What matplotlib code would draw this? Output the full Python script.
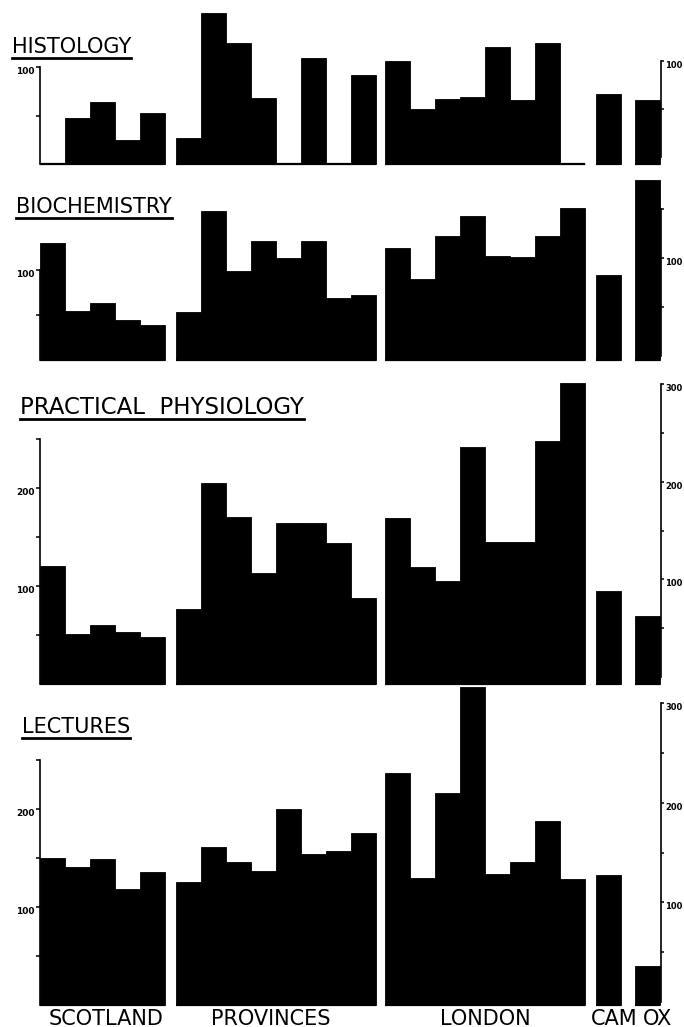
import matplotlib
matplotlib.use("Agg")
import matplotlib.pyplot as plt

W, H = 684, 1027

subjects = ["HISTOLOGY", "BIOCHEMISTRY", "PRACTICAL  PHYSIOLOGY", "LECTURES"]
groups = ["SCOTLAND", "PROVINCES", "LONDON", "CAM", "OX"]

# values, one list per region
scotland = [
    [0, 47, 64, 25, 53],
    [130, 54, 63, 44, 39],
    [120, 51, 60, 53, 48],
    [150, 141, 149, 118, 136],
]
provinces = [
    [27, 156, 125, 68, 0, 109, 0, 92],
    [53, 166, 99, 132, 113, 132, 69, 72],
    [77, 205, 170, 113, 164, 164, 144, 88],
    [126, 161, 146, 137, 200, 154, 157, 176],
]
london = [
    [106, 57, 67, 69, 121, 66, 125, 0],
    [124, 90, 138, 160, 116, 114, 138, 169],
    [169, 119, 105, 242, 145, 145, 248, 307],
    [237, 130, 216, 324, 134, 146, 188, 129],
]
cam = [72, 94, 95, 133]
ox = [66, 200, 69, 40]

left_ticks = [[50, 100], [50, 100], [50, 100, 150, 200, 250], [50, 100, 150, 200, 250]]
left_labels = [[100], [100], [100, 200], [100, 200]]
right_ticks = [[50, 100], [50, 100, 150], [50, 100, 150, 200, 250, 300], [50, 100, 150, 200, 250, 300]]
right_labels = [[100], [100], [100, 200, 300], [100, 200, 300]]

# layout in pixels: axes top, axes bottom, baseline, px per unit
panel_box = [(5, 167, 164, 0.97), (172, 363, 360, 0.90), (378, 687, 684, 0.98), (680, 1008, 1005, 0.98)]
right_scale = [(157, 0.96), (356, 0.98), (677, 0.976), (1002, 0.996)]
title_pos = [(12, 53), (16, 213), (20, 414), (22, 733)]
title_size = [15, 15, 16.5, 15]

group_start = [0, 5.44, 13.8, 22.24, 23.8]
right_x = 24.84
x_px0, slot_px = 40, 25.0

font = "DejaVu Sans"

fig = plt.figure(figsize=(W / 100, H / 100), dpi=100)
fig.patch.set_facecolor("white")

xlim = ((0 - x_px0) / slot_px, (W - x_px0) / slot_px)

for i in range(4):
    top, bot, base, s = panel_box[i]
    ax = fig.add_axes([0, 1 - bot / H, 1, (bot - top) / H])
    ax.patch.set_alpha(0)
    ax.set_xlim(*xlim)
    ax.set_ylim((base - bot) / s, (base - top) / s)

    series = [scotland[i], provinces[i], london[i], [cam[i]], [ox[i]]]
    for g, vals in enumerate(series):
        xs = [group_start[g] + k for k in range(len(vals))]
        ax.bar(xs, vals, width=1, align="edge", color="black",
               edgecolor="black", linewidth=0.6)
        ax.hlines(0, group_start[g], group_start[g] + len(vals), color="black", lw=1.6)

    for sp in ["top", "bottom", "right"]:
        ax.spines[sp].set_visible(False)
    ax.spines["left"].set_position(("data", 0))
    ax.spines["left"].set_bounds(0, max(left_ticks[i]))
    ax.spines["left"].set_linewidth(1.2)
    ax.set_xticks([])
    ax.set_yticks(left_ticks[i])
    ax.set_yticklabels([str(t) if t in left_labels[i] else "" for t in left_ticks[i]],
                       fontsize=6.5, fontweight="bold", va="top")
    ax.tick_params(axis="y", direction="out", length=3, width=1.1, pad=1)

    rb, rs = right_scale[i]
    ax2 = ax.twinx()
    ax2.patch.set_alpha(0)
    ax2.set_ylim((rb - bot) / rs, (rb - top) / rs)
    for sp in ["top", "bottom", "left"]:
        ax2.spines[sp].set_visible(False)
    ax2.spines["right"].set_position(("data", right_x))
    ax2.spines["right"].set_bounds(0, max(right_ticks[i]))
    ax2.spines["right"].set_linewidth(1.2)
    ax2.set_yticks(right_ticks[i])
    ax2.set_yticklabels([str(t) if t in right_labels[i] else "" for t in right_ticks[i]],
                        fontsize=6, fontweight="bold", va="top")
    ax2.tick_params(axis="y", direction="out", length=2.5, width=1.1, pad=0.5)

    tx, ty = title_pos[i]
    t = fig.text(tx / W, 1 - ty / H, subjects[i], family=font, fontsize=title_size[i],
                 va="baseline", ha="left", color="black")
    fig.canvas.draw()
    bb = t.get_window_extent(renderer=fig.canvas.get_renderer())
    uy = 1 - (ty + 5) / H
    fig.add_artist(plt.Line2D([bb.x0 / W, bb.x1 / W], [uy, uy], color="black", lw=2,
                              transform=fig.transFigure))

label_x = [106, 271, 485, 614, 657]
for g in range(5):
    fig.text(label_x[g] / W, 1 - 1025 / H, groups[g], family=font, fontsize=15,
             ha="center", va="baseline", color="black")

fig.savefig("out.png", dpi=100, facecolor="white")
